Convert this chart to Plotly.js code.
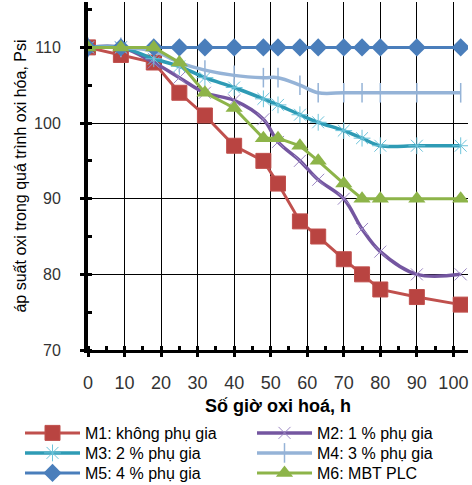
<!DOCTYPE html>
<html>
<head>
<meta charset="utf-8">
<script src="https://cdn.plot.ly/plotly-3.0.1.min.js"></script>
<style>html,body{margin:0;padding:0;background:#fff;}#chart{width:472px;height:485px;}</style>
</head>
<body>
<div id="chart"></div>
<script>
// Time (h)
var hours = [0, 9, 18, 25, 32, 40, 48, 52, 58, 63, 70, 75, 80, 90, 102];
// Oxygen pressure (Psi)
var m1 = [110, 109, 108, 104, 101, 97, 95, 92, 87, 85, 82, 80, 78, 77, 76];
var m2 = [110, 110, 108, 106, 104, 103, 100.5, 97.5, 95, 92.5, 90, 86, 83, 80, 80];
var m3 = [110, 110, 108.5, 107.5, 106, 104.7, 103.2, 102.4, 101.1, 100.1, 99, 98, 97, 97, 97];
var m4 = [110, 110, 109.5, 108, 107, 106.3, 106, 106, 105, 104, 104, 104, 104, 104, 104];
var m5 = [110, 110, 110, 110, 110, 110, 110, 110, 110, 110, 110, 110, 110, 110, 110];
var m6 = [110, 110, 110, 108, 104, 102, 98, 98, 97, 95, 92, 90, 90, 90, 90];
var names = ["M1: không phụ gia", "M2: 1 % phụ gia", "M3: 2 % phụ gia", "M4: 3 % phụ gia", "M5: 4 % phụ gia", "M6: MBT PLC"];
var xTicks = [0, 10, 20, 30, 40, 50, 60, 70, 80, 90, 100];
var yTicks = [70, 80, 90, 100, 110];

var traces = [
  {x: hours, y: m1, name: names[0], mode: 'lines+markers', legend: 'legend',
   line: {color: '#C0504D', width: 3},
   marker: {symbol: 'square', size: 15, color: '#B94441', line: {color: '#C0504D', width: 1}}},
  {x: hours, y: m2, name: names[1], mode: 'lines+markers', legend: 'legend2',
   line: {color: '#7456A0', width: 3.5, shape: 'spline', smoothing: 1},
   marker: {symbol: 'x-thin-open', size: 12, color: '#9C88C4', line: {color: '#9C88C4', width: 1}}},
  {x: hours, y: m3, name: names[2], mode: 'lines+markers', legend: 'legend3',
   line: {color: '#2E9BB5', width: 3.5, shape: 'spline', smoothing: 1},
   marker: {symbol: 'asterisk-open', size: 14, color: '#6CC3DA', line: {color: '#6CC3DA', width: 1}}},
  {x: hours, y: m4, name: names[3], mode: 'lines+markers', legend: 'legend4',
   line: {color: '#95B3D7', width: 3.5, shape: 'spline', smoothing: 1},
   marker: {symbol: 'line-ns-open', size: 14, color: '#95B3D7', line: {color: '#95B3D7', width: 1.5}}},
  {x: hours, y: m5, name: names[4], mode: 'lines+markers', legend: 'legend5',
   line: {color: '#4A7EBB', width: 3},
   marker: {symbol: 'diamond', size: 14, color: '#4A7EBB'}},
  {x: hours, y: m6, name: names[5], mode: 'lines+markers', legend: 'legend6',
   line: {color: '#8DB449', width: 3},
   marker: {symbol: 'triangle-up', size: 15, color: '#8DB449'}}
];

function leg(xpx, ypx) {
  return {
    orientation: 'h', xref: 'container', yref: 'container',
    x: xpx / 472, xanchor: 'left', y: 1 - ypx / 485, yanchor: 'middle',
    font: {size: 16, color: '#000'}, itemwidth: 55, bgcolor: 'rgba(0,0,0,0)'
  };
}

var layout = {
  width: 472, height: 485,
  margin: {l: 88, r: 4, t: 2, b: 135},
  paper_bgcolor: '#fff', plot_bgcolor: '#fff',
  font: {family: 'Liberation Sans, Arial, sans-serif', color: '#000'},
  showlegend: true,
  legend: leg(20, 433), legend2: leg(252, 433),
  legend3: leg(20, 453), legend4: leg(252, 453),
  legend5: leg(20, 473), legend6: leg(252, 473),
  xaxis: {
    range: [0, 104], tickvals: xTicks, ticktext: xTicks.map(String),
    showgrid: true, gridcolor: '#000', gridwidth: 1,
    showline: true, linecolor: '#000', linewidth: 3,
    ticks: 'outside', ticklen: 4, tickwidth: 3, tickcolor: '#000',
    minor: {dtick: 5, tick0: 0, ticks: 'inside', ticklen: 4, tickwidth: 3, tickcolor: '#000', showgrid: false},
    tickfont: {size: 18, color: '#333'}, ticklabelstandoff: 10,
    zeroline: false,
    title: {text: '<b>Số giờ oxi hoá, h</b>', font: {size: 18, color: '#000'}, standoff: 12}
  },
  yaxis: {
    range: [70, 116], tickvals: yTicks, ticktext: yTicks.map(String),
    showgrid: true, gridcolor: '#000', gridwidth: 1,
    showline: true, linecolor: '#000', linewidth: 4,
    ticks: 'outside', ticklen: 4, tickwidth: 3, tickcolor: '#000',
    minor: {dtick: 5, tick0: 70, ticks: 'inside', ticklen: 4, tickwidth: 3, tickcolor: '#000', showgrid: false},
    tickfont: {size: 16, color: '#333'}, ticklabelstandoff: 16,
    zeroline: false,
    title: {text: 'áp suất oxi trong quá trình oxi hóa, Psi', font: {size: 16, color: '#000'}, standoff: 4}
  }
};

Plotly.newPlot('chart', traces, layout, {displayModeBar: false, staticPlot: true});
</script>
</body>
</html>
